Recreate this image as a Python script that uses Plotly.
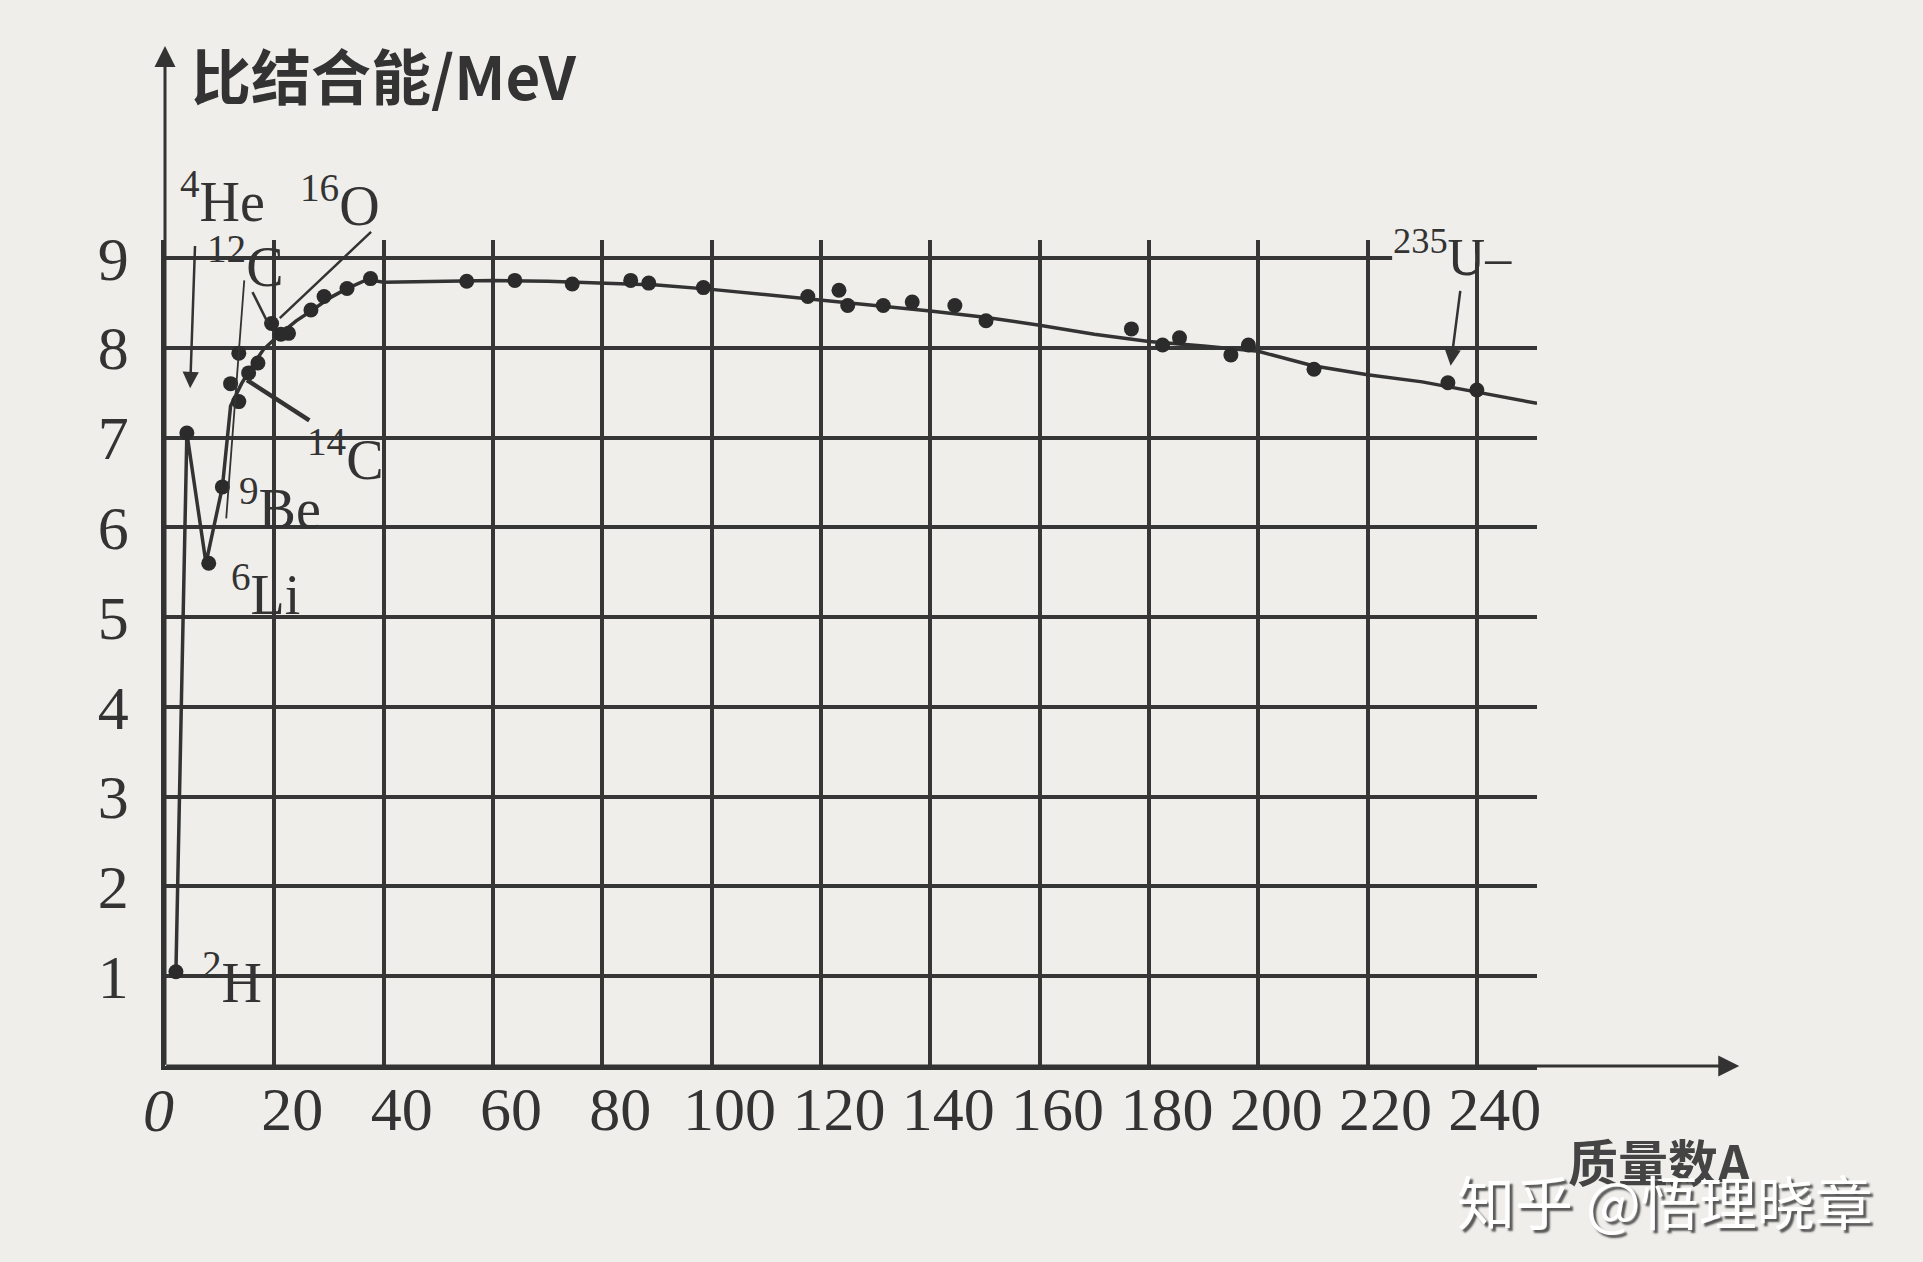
import plotly.graph_objects as go

# ---------------- data ----------------
# dots on the binding-energy curve
mass_number = [2, 4, 8, 10.5, 12, 13.5, 13.5, 15.3, 17, 19.5, 21.2, 22.6, 26.7, 29.1,
               33.3, 37.6, 55.2, 64, 74.5, 85.2, 88.5, 98.5, 117.6, 123.3, 124.9,
               131.4, 136.7, 144.5, 150.2, 176.8, 182.5, 185.6, 195, 198.2, 210.2,
               234.7, 240]
binding_energy = [1.05, 7.05, 5.6, 6.45, 7.6, 7.4, 7.94, 7.72, 7.83, 8.27, 8.15, 8.16,
                  8.42, 8.57, 8.66, 8.77, 8.74, 8.75, 8.71, 8.75, 8.72, 8.67, 8.57,
                  8.64, 8.47, 8.47, 8.51, 8.47, 8.3, 8.21, 8.03, 8.11, 7.92, 8.03,
                  7.76, 7.61, 7.53]

# the drawn curve
curve_A = [2, 4, 7.5, 10.5, 12, 14, 16, 18, 21, 24, 27, 30, 33, 37, 40, 50, 60, 70, 80,
           90, 100, 110, 120, 130, 140, 150, 160, 170, 180, 190, 200, 210, 220, 230,
           240, 251]
curve_E = [1.05, 7.05, 5.6, 6.45, 7.35, 7.6, 7.8, 7.98, 8.15, 8.3, 8.42, 8.55, 8.65,
           8.76, 8.73, 8.74, 8.75, 8.74, 8.72, 8.7, 8.65, 8.59, 8.53, 8.47, 8.41,
           8.34, 8.25, 8.15, 8.07, 8.02, 7.96, 7.8, 7.7, 7.62, 7.51, 7.38]

x_ticks = [20, 40, 60, 80, 100, 120, 140, 160, 180, 200, 220, 240]
x_tick_labels = ["20", "40", "60", "80", "100", "120", "140", "160", "180", "200", "220", "240"]
y_ticks = [1, 2, 3, 4, 5, 6, 7, 8, 9]
y_tick_labels = ["1", "2", "3", "4", "5", "6", "7", "8", "9"]

nuclide_labels = ["<sup>4</sup>He", "<sup>16</sup>O", "<sup>12</sup>C", "<sup>14</sup>C",
                  "<sup>9</sup>Be", "<sup>6</sup>Li", "<sup>2</sup>H"]
uranium_label = "<sup>235</sup>U–"

y_title = "比结合能/MeV"
x_title = "质量数A"
watermark = "知乎 @悟理晓章"

# ---------------- layout geometry ----------------
W, H = 1923, 1262
X_MAX, Y_MAX = 251, 9.2
PX_A, PX_E = 5.467, 89.8
ML = 165
MB = 196
MR = W - ML - X_MAX * PX_A
MT = H - MB - Y_MAX * PX_E

INK = "#333333"
GRID = "#363636"
PAPER = "#efeeeb"
SERIF = "Liberation Serif, Times New Roman, serif"
CJK = "Noto Sans CJK SC, sans-serif"


def px(a):
    return a / X_MAX


def py(e):
    return e / Y_MAX


def label(text, a, e, font, **kw):
    d = dict(text=text, x=px(a), y=py(e), xref="paper", yref="paper",
             xanchor="center", yanchor="middle", showarrow=False, font=font)
    d.update(kw)
    return d


fig = go.Figure()

fig.add_trace(go.Scatter(x=curve_A, y=curve_E, mode="lines",
                         line=dict(color=INK, width=3.5), cliponaxis=False,
                         hoverinfo="skip", showlegend=False))
fig.add_trace(go.Scatter(x=mass_number, y=binding_energy, mode="markers",
                         marker=dict(color="#2b2b2b", size=15), cliponaxis=False,
                         showlegend=False))

annotations = []

# axis titles / texts
annotations.append(label(y_title, 40.0, 11.05,
                         dict(family=CJK, size=60, color=INK, weight="bold")))
annotations.append(label(x_title, 273.5, -1.05,
                         dict(family=CJK, size=50, color="#444", weight="bold")))
annotations.append(label("0", -1.1, -0.49,
                         dict(family=SERIF, size=62, color=INK, style="italic")))

# nuclide labels
label_pos = [(10.5, 9.67), (32, 9.63), (14.8, 8.95), (33, 6.8), (21, 6.25), (18.3, 5.3), (12.2, 0.98)]
for txt, (a, e) in zip(nuclide_labels, label_pos):
    annotations.append(label(txt, a, e, dict(family=SERIF, size=56, color=INK)))
annotations.append(label(uranium_label, 235.5, 9.05,
                         dict(family=SERIF, size=52, color=INK)))

# watermark
annotations.append(label(watermark, 274.5, -1.49,
                         dict(family=CJK, size=58, color="#ffffff",
                              shadow="3px 3px 2px rgba(70,70,70,0.9)")))

# axis arrows
annotations.append(dict(x=px(288), y=py(0), xref="paper", yref="paper", text="",
                        showarrow=True, ax=-288 * PX_A, ay=0, arrowhead=2, arrowsize=1.4,
                        arrowwidth=3, arrowcolor=INK, standoff=0))
annotations.append(dict(x=px(0), y=py(11.36), xref="paper", yref="paper", text="",
                        showarrow=True, ax=0, ay=11.36 * PX_E, arrowhead=2, arrowsize=1.4,
                        arrowwidth=3, arrowcolor=INK, standoff=0))

# leader arrows (He and U)
for (ha, he), (ta, te) in [((4.6, 7.55), (5.5, 9.15)), ((235.2, 7.8), (237, 8.65))]:
    annotations.append(dict(x=px(ha), y=py(he), xref="paper", yref="paper", text="",
                            showarrow=True, ax=(ta - ha) * PX_A, ay=-(te - he) * PX_E,
                            arrowhead=2, arrowsize=1.3, arrowwidth=2.5, arrowcolor=INK,
                            standoff=0))

shapes = []
for (a0, e0), (a1, e1), w in [((21, 8.33), (37.7, 9.29), 2.5),
                              ((16, 8.62), (18.8, 8.28), 2.5),
                              ((15, 7.64), (26.4, 7.19), 4.5),
                              ((14.5, 8.75), (11.2, 6.1), 1.8)]:
    shapes.append(dict(type="line", xref="paper", yref="paper",
                       x0=px(a0), y0=py(e0), x1=px(a1), y1=py(e1),
                       line=dict(color=INK, width=w)))
# gap in the top grid line where the U label sits, keeping the 240 grid line
shapes.append(dict(type="rect", xref="paper", yref="paper", layer="above",
                   x0=px(224.5), x1=px(251.5), y0=py(8.95), y1=py(9.05),
                   fillcolor=PAPER, line=dict(width=0)))
shapes.append(dict(type="line", xref="paper", yref="paper", layer="above",
                   x0=px(240), x1=px(240), y0=py(8.9), y1=py(9.2),
                   line=dict(color=GRID, width=3.5)))

fig.update_layout(
    width=W, height=H, autosize=False,
    margin=dict(l=ML, r=MR, t=MT, b=MB, pad=0),
    paper_bgcolor=PAPER, plot_bgcolor=PAPER,
    annotations=annotations, shapes=shapes,
    xaxis=dict(range=[0, X_MAX], tickvals=x_ticks, ticktext=x_tick_labels,
               showgrid=True, gridcolor=GRID, gridwidth=3.5, zeroline=False,
               showline=True, linecolor=INK, linewidth=3.5, ticks="",
               ticklabelstandoff=-14, ticklabelshift=18,
               tickfont=dict(family=SERIF, size=62, color=INK)),
    yaxis=dict(range=[0, Y_MAX], tickvals=y_ticks, ticktext=y_tick_labels,
               showgrid=True, gridcolor=GRID, gridwidth=3.5, zeroline=False,
               showline=True, linecolor=INK, linewidth=3.5, ticks="",
               ticklabelstandoff=20,
               tickfont=dict(family=SERIF, size=62, color=INK)),
    hovermode=False,
)

fig.write_html("out.html", config={"displayModeBar": False},
               post_script="document.body.style.margin='0px';document.body.style.background='%s';" % PAPER)
